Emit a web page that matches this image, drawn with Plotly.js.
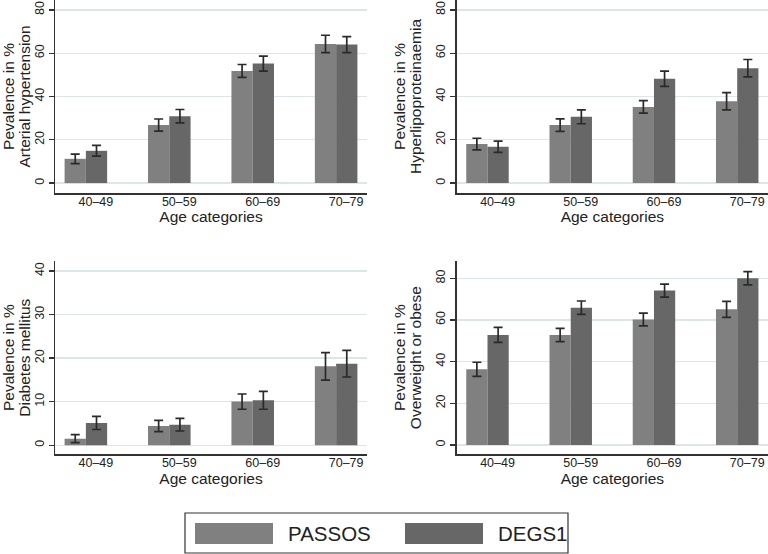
<!DOCTYPE html>
<html>
<head>
<meta charset="utf-8">
<script src="https://cdn.plot.ly/plotly-3.0.1.min.js"></script>
<style>html,body{margin:0;padding:0;background:#fff;}#chart{width:768px;height:554px;}</style>
</head>
<body>
<div id="chart"></div>
<script>
// ---- Data ----
const categories = ['40\u201349', '50\u201359', '60\u201369', '70\u201379'];
const seriesNames = ['PASSOS', 'DEGS1'];

const titleLine1 = 'Pevalence in %';
const panelSubjects = ['Arterial hypertension', 'Hyperlipoproteinaemia', 'Diabetes mellitus', 'Overweight or obese'];
const xTitle = 'Age categories';

// Arterial hypertension
const hypPassos = [11.2, 26.8, 51.8, 64.3];
const hypPassosErr = [2.2, 2.8, 3.0, 4.0];
const hypDegs = [14.9, 30.9, 55.2, 64.0];
const hypDegsErr = [2.5, 3.1, 3.5, 3.7];

// Hyperlipoproteinaemia
const lipPassos = [18.0, 26.8, 35.2, 37.8];
const lipPassosErr = [2.7, 2.9, 2.9, 4.0];
const lipDegs = [16.8, 30.6, 48.2, 53.1];
const lipDegsErr = [2.6, 3.2, 3.5, 4.0];

// Diabetes mellitus
const diaPassos = [1.5, 4.4, 10.0, 18.1];
const diaPassosErr = [0.9, 1.3, 1.75, 3.15];
const diaDegs = [5.1, 4.7, 10.3, 18.7];
const diaDegsErr = [1.5, 1.45, 2.05, 3.05];

// Overweight or obese
const obePassos = [36.3, 52.8, 60.2, 65.1];
const obePassosErr = [3.4, 3.2, 3.05, 3.85];
const obeDegs = [52.8, 65.9, 74.1, 80.0];
const obeDegsErr = [3.6, 3.2, 3.1, 3.2];

const yTicks1 = [0, 20, 40, 60, 80];
const yTicks3 = [0, 10, 20, 30, 40];

// ---- Styling ----
const colPassos = '#808080';
const colDegs = '#676767';
const axisCol = '#333333';
const gridCol = '#dce6e8';
const textCol = '#222222';
const FONT = 'Liberation Sans, Arial, sans-serif';

const panels = [
  {p: hypPassos, pe: hypPassosErr, d: hypDegs, de: hypDegsErr},
  {p: lipPassos, pe: lipPassosErr, d: lipDegs, de: lipDegsErr},
  {p: diaPassos, pe: diaPassosErr, d: diaDegs, de: diaDegsErr},
  {p: obePassos, pe: obePassosErr, d: obeDegs, de: obeDegsErr}
];

function errObj(arr) {
  return {type: 'data', array: arr, visible: true, color: '#2a2a2a', thickness: 1.7, width: 4.5};
}

const traces = [];
panels.forEach((pn, i) => {
  const xa = i === 0 ? 'x' : 'x' + (i + 1);
  const ya = i === 0 ? 'y' : 'y' + (i + 1);
  traces.push({
    type: 'bar', name: seriesNames[0], x: categories, y: pn.p,
    error_y: errObj(pn.pe), marker: {color: colPassos, line: {width: 0}},
    xaxis: xa, yaxis: ya, showlegend: false, hoverinfo: 'skip'
  });
  traces.push({
    type: 'bar', name: seriesNames[1], x: categories, y: pn.d,
    error_y: errObj(pn.de), marker: {color: colDegs, line: {width: 0}},
    xaxis: xa, yaxis: ya, showlegend: false, hoverinfo: 'skip'
  });
});

const W = 768, H = 554;
const px = v => v / W;
const py = v => 1 - v / H;

const xDomL = [px(55), px(367)];
const xDomR = [px(456.7), 1];
const yDomT = [py(193), 1];
const yDomB = [py(454.3), py(261)];

function yTitleText(subject) {
  const s = '<span style="font-size:15.5px">';
  return s + titleLine1 + '</span><br>' + s + subject + '</span>';
}

function xAxis(domain, anchor) {
  return {
    domain: domain, anchor: anchor, type: 'category', range: [-0.37, 3.37],
    showline: true, linecolor: axisCol, linewidth: 1.5, ticks: '', showgrid: false,
    zeroline: false, tickfont: {family: FONT, size: 12.5, color: textCol},
    ticklabelshift: 10, ticklabelstandoff: -4,
    title: {text: xTitle, font: {family: FONT, size: 15.5, color: textCol}, standoff: 2},
    fixedrange: true
  };
}
function yAxis(domain, anchor, range, ticks, subject) {
  return {
    domain: domain, anchor: anchor, range: range, tickvals: ticks,
    ticktext: ticks.map(String),
    showline: true, linecolor: axisCol, linewidth: 1.5, ticks: 'outside', ticklen: 5,
    tickcolor: axisCol, tickwidth: 1.2, tickangle: -90,
    showgrid: true, gridcolor: gridCol, gridwidth: 1.3, zeroline: false,
    tickfont: {family: FONT, size: 12.5, color: textCol},
    title: {text: yTitleText(subject), font: {family: FONT, size: 12, color: textCol}, standoff: 10},
    fixedrange: true
  };
}

const legendShapes = [
  {type: 'rect', xref: 'paper', yref: 'paper', x0: px(185), x1: px(568), y0: py(553), y1: py(513),
   line: {color: axisCol, width: 1.2}, fillcolor: 'rgba(0,0,0,0)'},
  {type: 'rect', xref: 'paper', yref: 'paper', x0: px(195), x1: px(273), y0: py(544), y1: py(523),
   line: {width: 0}, fillcolor: colPassos},
  {type: 'rect', xref: 'paper', yref: 'paper', x0: px(405), x1: px(483), y0: py(544), y1: py(523),
   line: {width: 0}, fillcolor: colDegs}
];
const legendAnn = [
  {xref: 'paper', yref: 'paper', x: px(286), y: py(533.5), xanchor: 'left', yanchor: 'middle',
   text: seriesNames[0], showarrow: false, font: {family: FONT, size: 20.5, color: textCol}},
  {xref: 'paper', yref: 'paper', x: px(496), y: py(533.5), xanchor: 'left', yanchor: 'middle',
   text: seriesNames[1], showarrow: false, font: {family: FONT, size: 20.5, color: textCol}}
];

const layout = {
  width: W, height: H,
  margin: {l: 0, r: 0, t: 0, b: 0},
  paper_bgcolor: '#ffffff', plot_bgcolor: '#ffffff',
  barmode: 'group', bargap: 0.49, bargroupgap: 0,
  showlegend: false,
  font: {family: FONT, color: textCol},
  xaxis: xAxis(xDomL, 'y'),
  yaxis: yAxis(yDomT, 'x', [-4.6, 84.6], yTicks1, panelSubjects[0]),
  xaxis2: xAxis(xDomR, 'y2'),
  yaxis2: yAxis(yDomT, 'x2', [-4.6, 84.6], yTicks1, panelSubjects[1]),
  xaxis3: xAxis(xDomL, 'y3'),
  yaxis3: yAxis(yDomB, 'x3', [-2.1, 42.3], yTicks3, panelSubjects[2]),
  xaxis4: xAxis(xDomR, 'y4'),
  yaxis4: yAxis(yDomB, 'x4', [-4.5, 88.3], yTicks1, panelSubjects[3]),
  shapes: legendShapes,
  annotations: legendAnn
};

Plotly.newPlot('chart', traces, layout, {staticPlot: true, displayModeBar: false});
</script>
</body>
</html>
